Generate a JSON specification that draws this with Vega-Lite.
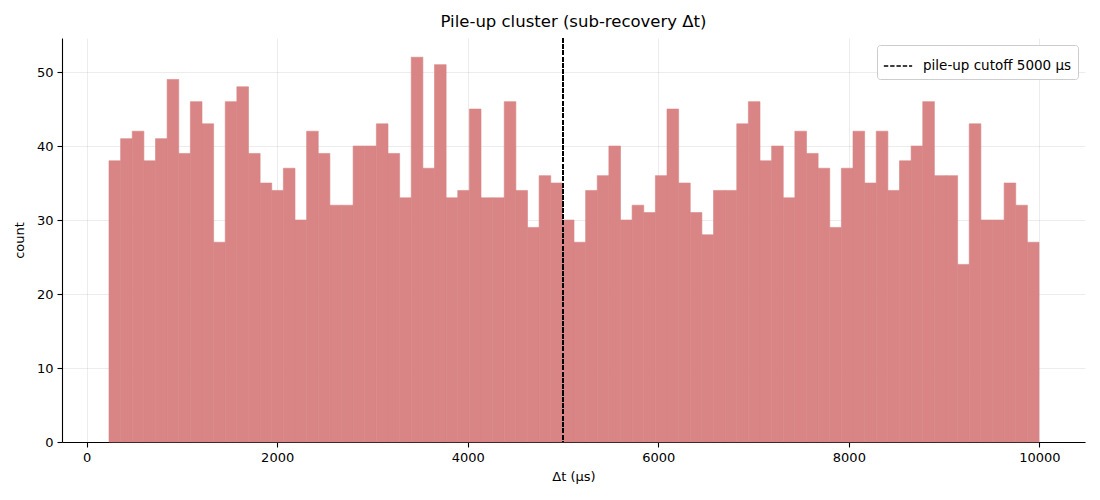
{
  "$schema": "https://vega.github.io/schema/vega-lite/v6.json",
  "width": 1023,
  "height": 404,
  "autosize": {"type": "none"},
  "padding": {"left": 62, "top": 38, "right": 15, "bottom": 58},
  "background": "white",
  "title": {"text": "Pile-up cluster (sub-recovery Δt)", "fontSize": 16.5, "fontWeight": "normal", "font": "DejaVu Sans", "color": "black", "offset": 7},
  "config": {
    "view": {"stroke": null},
    "font": "DejaVu Sans",
    "bar": {"binSpacing": 0},
    "axis": {
      "labelFont": "DejaVu Sans", "labelFontSize": 13, "labelColor": "black",
      "titleFont": "DejaVu Sans", "titleFontSize": 13, "titleFontWeight": "normal", "titleColor": "black",
      "domainColor": "black", "domainWidth": 1.1, "tickColor": "black", "tickWidth": 1.1, "tickSize": 5,
      "labelPadding": 4, "gridColor": "#b0b0b0", "gridOpacity": 0.3, "gridWidth": 0.8, "zindex": 1
    },
    "legend": {
      "labelFont": "DejaVu Sans", "labelFontSize": 13.5, "labelColor": "black",
      "fillColor": "white", "strokeColor": "#cccccc", "cornerRadius": 3,
      "padding": 6, "offset": 7, "symbolType": "stroke", "symbolStrokeWidth": 1.3,
      "symbolDash": [4.4, 1.9], "symbolSize": 800, "labelOffset": 10, "zindex": 2
    }
  },
  "data": {"values": [
    {"s":230,"e":352,"count":38},{"s":352,"e":474,"count":41},{"s":474,"e":596,"count":42},{"s":596,"e":718,"count":38},
    {"s":718,"e":840,"count":41},{"s":840,"e":962,"count":49},{"s":962,"e":1084,"count":39},{"s":1084,"e":1206,"count":46},
    {"s":1206,"e":1328,"count":43},{"s":1328,"e":1450,"count":27},{"s":1450,"e":1572,"count":46},{"s":1572,"e":1694,"count":48},
    {"s":1694,"e":1816,"count":39},{"s":1816,"e":1938,"count":35},{"s":1938,"e":2060,"count":34},{"s":2060,"e":2182,"count":37},
    {"s":2182,"e":2304,"count":30},{"s":2304,"e":2426,"count":42},{"s":2426,"e":2548,"count":39},{"s":2548,"e":2670,"count":32},
    {"s":2670,"e":2792,"count":32},{"s":2792,"e":2914,"count":40},{"s":2914,"e":3036,"count":40},{"s":3036,"e":3158,"count":43},
    {"s":3158,"e":3280,"count":39},{"s":3280,"e":3402,"count":33},{"s":3402,"e":3524,"count":52},{"s":3524,"e":3646,"count":37},
    {"s":3646,"e":3768,"count":51},{"s":3768,"e":3890,"count":33},{"s":3890,"e":4012,"count":34},{"s":4012,"e":4134,"count":45},
    {"s":4134,"e":4256,"count":33},{"s":4256,"e":4378,"count":33},{"s":4378,"e":4500,"count":46},{"s":4500,"e":4622,"count":34},
    {"s":4622,"e":4744,"count":29},{"s":4744,"e":4866,"count":36},{"s":4866,"e":4988,"count":35},{"s":4988,"e":5110,"count":30},
    {"s":5110,"e":5232,"count":27},{"s":5232,"e":5354,"count":34},{"s":5354,"e":5476,"count":36},{"s":5476,"e":5598,"count":40},
    {"s":5598,"e":5720,"count":30},{"s":5720,"e":5842,"count":32},{"s":5842,"e":5964,"count":31},{"s":5964,"e":6086,"count":36},
    {"s":6086,"e":6208,"count":45},{"s":6208,"e":6330,"count":35},{"s":6330,"e":6452,"count":31},{"s":6452,"e":6574,"count":28},
    {"s":6574,"e":6696,"count":34},{"s":6696,"e":6818,"count":34},{"s":6818,"e":6940,"count":43},{"s":6940,"e":7062,"count":46},
    {"s":7062,"e":7184,"count":38},{"s":7184,"e":7306,"count":40},{"s":7306,"e":7428,"count":33},{"s":7428,"e":7550,"count":42},
    {"s":7550,"e":7672,"count":39},{"s":7672,"e":7794,"count":37},{"s":7794,"e":7916,"count":29},{"s":7916,"e":8038,"count":37},
    {"s":8038,"e":8160,"count":42},{"s":8160,"e":8282,"count":35},{"s":8282,"e":8404,"count":42},{"s":8404,"e":8526,"count":34},
    {"s":8526,"e":8648,"count":38},{"s":8648,"e":8770,"count":40},{"s":8770,"e":8892,"count":46},{"s":8892,"e":9014,"count":36},
    {"s":9014,"e":9136,"count":36},{"s":9136,"e":9258,"count":24},{"s":9258,"e":9380,"count":43},{"s":9380,"e":9502,"count":30},
    {"s":9502,"e":9624,"count":30},{"s":9624,"e":9746,"count":35},{"s":9746,"e":9868,"count":32},{"s":9868,"e":9990,"count":27}
  ]},
  "layer": [
    {
      "mark": {"type": "bar", "color": "#d98585", "stroke": "#d98585", "strokeWidth": 0.6},
      "encoding": {
        "x": {"field": "s", "type": "quantitative", "bin": "binned",
              "scale": {"domain": [-258, 10478], "nice": false, "zero": false},
              "axis": {"title": "Δt (µs)", "values": [0, 2000, 4000, 6000, 8000, 10000], "format": "d", "titlePadding": 6, "grid": true}},
        "x2": {"field": "e"},
        "y": {"field": "count", "type": "quantitative",
              "scale": {"domain": [0, 54.6], "nice": false},
              "axis": {"title": "count", "values": [0, 10, 20, 30, 40, 50], "titlePadding": 10}}
      }
    },
    {
      "mark": {"type": "rule", "strokeDash": [4.4, 1.9], "strokeWidth": 1.3},
      "encoding": {
        "x": {"datum": 5000},
        "color": {"datum": "pile-up cutoff 5000 µs", "type": "nominal",
                  "scale": {"range": ["black"]},
                  "legend": {"title": null, "orient": "top-right"}}
      }
    }
  ]
}
